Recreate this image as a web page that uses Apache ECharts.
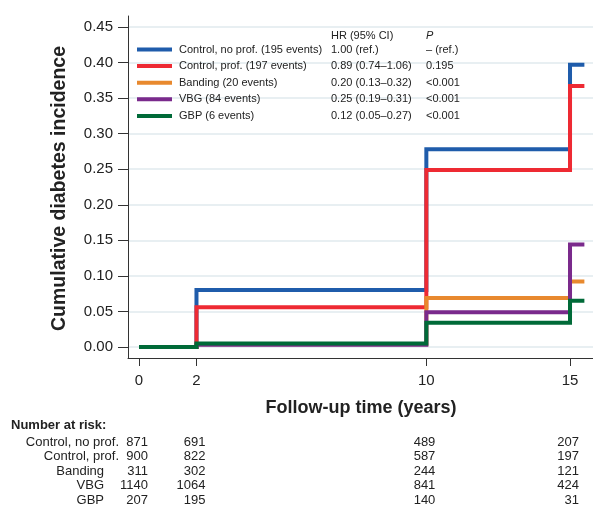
<!DOCTYPE html>
<html>
<head>
<meta charset="utf-8">
<script src="https://cdn.jsdelivr.net/npm/echarts@6/dist/echarts.min.js"></script>
<style>
  html, body { margin: 0; padding: 0; background: #fff; }
  #chart { width: 593px; height: 507px; }
</style>
</head>
<body>
<div id="chart"></div>
<script>
// Follow-up times (years) at which cumulative incidence steps; 15.5 is end of follow-up
const timePoints = [0, 2, 10, 15, 15.5];

const groupNames = [
  'Control, no prof. (195 events)',
  'Control, prof. (197 events)',
  'Banding (20 events)',
  'VBG (84 events)',
  'GBP (6 events)'
];
const groupColors = ['#1f5cab', '#ee2a33', '#e8892e', '#7a2a8c', '#006a38'];

// Cumulative diabetes incidence per group at each time point
const controlNoProf = [0, 0.080, 0.278, 0.397, 0.397];
const controlProf   = [0, 0.056, 0.249, 0.367, 0.367];
const banding       = [0, 0.004, 0.069, 0.092, 0.092];
const vbg           = [0, 0.003, 0.049, 0.144, 0.144];
const gbp           = [0, 0.005, 0.034, 0.065, 0.065];

// Hazard ratios and P values shown beside the legend
const hrText = ['1.00 (ref.)', '0.89 (0.74\u20131.06)', '0.20 (0.13\u20130.32)', '0.25 (0.19\u20130.31)', '0.12 (0.05\u20130.27)'];
const pText  = ['\u2013 (ref.)', '0.195', '<0.001', '<0.001', '<0.001'];

// Axis ticks
const xTicks = [0, 2, 10, 15];
const yTicks = [0, 0.05, 0.10, 0.15, 0.20, 0.25, 0.30, 0.35, 0.40, 0.45];

// Number at risk table
const riskTimes  = [0, 2, 10, 15];
const riskLabels = ['Control, no prof.', 'Control, prof.', 'Banding', 'VBG', 'GBP'];
const riskControlNoProf = [871, 691, 489, 207];
const riskControlProf   = [900, 822, 587, 197];
const riskBanding       = [311, 302, 244, 121];
const riskVbg           = [1140, 1064, 841, 424];
const riskGbp           = [207, 195, 140, 31];

const FONT = "'Liberation Sans', Arial, Helvetica, sans-serif";
const seriesValues = [controlNoProf, controlProf, banding, vbg, gbp];
const riskValues = [riskControlNoProf, riskControlProf, riskBanding, riskVbg, riskGbp];

const chart = echarts.init(document.getElementById('chart'), null, { renderer: 'canvas' });

const series = groupNames.map((name, i) => ({
  name: name,
  type: 'line',
  step: 'end',
  showSymbol: false,
  symbol: 'none',
  animation: false,
  lineStyle: { width: 4, color: groupColors[i], cap: 'butt', join: 'miter' },
  itemStyle: { color: groupColors[i] },
  data: timePoints.map((t, k) => [t, seriesValues[i][k]])
}));

chart.setOption({
  animation: false,
  grid: { left: 128, right: 0, top: 16, bottom: 149, containLabel: false },
  xAxis: {
    type: 'value',
    min: -0.383,
    max: 15.8,
    axisLine: { show: true, onZero: false, lineStyle: { color: '#333', width: 1 } },
    axisTick: { show: true, length: 8, customValues: xTicks, lineStyle: { color: '#333' } },
    axisLabel: { customValues: xTicks, margin: 15, fontSize: 15, color: '#222', fontFamily: FONT },
    splitLine: { show: false }
  },
  yAxis: {
    type: 'value',
    min: -0.0155,
    max: 0.4655,
    axisLine: { show: true, onZero: false, lineStyle: { color: '#333', width: 1 } },
    axisTick: { show: true, length: 10, customValues: yTicks, lineStyle: { color: '#333' } },
    axisLabel: {
      customValues: yTicks, margin: 15, fontSize: 15, color: '#222', fontFamily: FONT,
      formatter: v => v.toFixed(2)
    },
    splitLine: { show: true, lineStyle: { color: '#e0eaee', width: 1.5 } }
  },
  legend: {
    show: true,
    orient: 'vertical',
    left: 137,
    top: 43,
    padding: 0,
    icon: 'rect',
    itemWidth: 35,
    itemHeight: 4,
    itemGap: 3.6,
    data: groupNames,
    formatter: name => {
      const i = groupNames.indexOf(name);
      return '{a|' + name + '}{b|' + hrText[i] + '}{c|' + pText[i] + '}';
    },
    textStyle: {
      fontFamily: FONT,
      fontSize: 11,
      color: '#222',
      lineHeight: 13,
      padding: [0, 0, 0, 2],
      rich: {
        a: { width: 152, fontSize: 11, fontFamily: FONT, color: '#222' },
        b: { width: 95, fontSize: 11, fontFamily: FONT, color: '#222' },
        c: { fontSize: 11, fontFamily: FONT, color: '#222' }
      }
    }
  },
  series: series
});

// Titles, legend column headers and the number-at-risk table
const graphics = [
  {
    type: 'text', x: 60, y: 188.5, rotation: Math.PI / 2,
    style: { text: 'Cumulative diabetes incidence', fontFamily: FONT, fontSize: 19.5, fontWeight: 'bold',
             fill: '#222', align: 'center', verticalAlign: 'middle' }
  },
  {
    type: 'text', x: 361, y: 408,
    style: { text: 'Follow-up time (years)', fontFamily: FONT, fontSize: 18, fontWeight: 'bold',
             fill: '#222', align: 'center', verticalAlign: 'middle' }
  },
  {
    type: 'text', x: 331, y: 36,
    style: { text: 'HR (95% CI)', fontFamily: FONT, fontSize: 11, fill: '#222', align: 'left', verticalAlign: 'middle' }
  },
  {
    type: 'text', x: 426, y: 36,
    style: { text: 'P', fontFamily: FONT, fontSize: 11, fontStyle: 'italic', fill: '#222', align: 'left', verticalAlign: 'middle' }
  },
  {
    type: 'text', x: 11, y: 425,
    style: { text: 'Number at risk:', fontFamily: FONT, fontSize: 13, fontWeight: 'bold', fill: '#222', align: 'left', verticalAlign: 'middle' }
  }
];

// Row label right edges and row baselines of the table
const labelRight = [119, 119, 104, 104, 104];
const rowY = [442, 456.5, 471, 485.5, 500];
riskLabels.forEach((label, r) => {
  graphics.push({
    type: 'text', x: labelRight[r], y: rowY[r],
    style: { text: label, fontFamily: FONT, fontSize: 13, fill: '#222', align: 'right', verticalAlign: 'middle' }
  });
  riskTimes.forEach((t, c) => {
    const px = chart.convertToPixel({ xAxisIndex: 0 }, t);
    graphics.push({
      type: 'text', x: px + 9, y: rowY[r],
      style: { text: String(riskValues[r][c]), fontFamily: FONT, fontSize: 13, fill: '#222', align: 'right', verticalAlign: 'middle' }
    });
  });
});

chart.setOption({ graphic: graphics });
</script>
</body>
</html>
